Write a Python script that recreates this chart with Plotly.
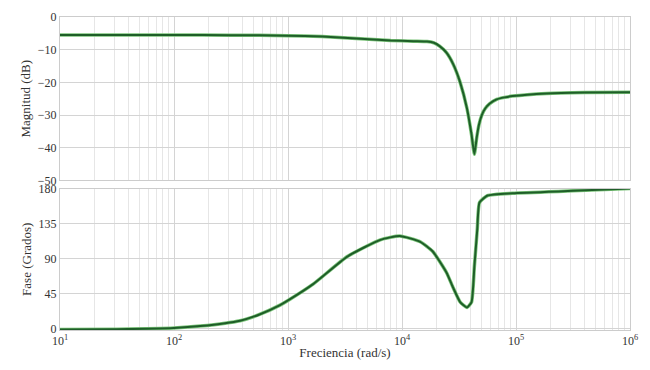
import numpy as np
import plotly.graph_objects as go
from plotly.subplots import make_subplots

# Magnitude data (log10 of frequency, dB)
mag_logw = [1.0, 2.0, 2.5, 3.0, 3.3, 3.6, 3.9, 4.1, 4.22, 4.28, 4.33, 4.39, 4.45, 4.51, 4.57, 4.61, 4.635,
            4.655, 4.675, 4.70, 4.73, 4.77, 4.83, 4.9, 4.97, 5.27, 5.6, 6.0]
mag_db = [-5.5, -5.5, -5.55, -5.7, -6.0, -6.6, -7.2, -7.4, -7.5, -7.9, -8.9, -10.9, -14.5, -20, -28, -36, -42,
          -37, -33, -30, -28, -26.5, -25.2, -24.6, -24.2, -23.4, -23.1, -23]

# Phase data (log10 of frequency, degrees)
ph_logw = [1.0, 1.5, 2.0, 2.23, 2.58, 2.75, 2.93, 3.0, 3.22, 3.52, 3.81, 3.98, 4.16, 4.27, 4.39, 4.45,
           4.51, 4.57, 4.61, 4.635, 4.66, 4.68, 4.75, 4.97, 5.5, 6.0]
ph_deg = [-1.5, -1, 0.5, 3, 10, 18, 30, 36, 57, 92.5, 114, 119, 111.5, 99, 72, 52,
          34, 27, 34, 80, 127, 162, 171, 174, 177, 180]

x_tickvals = [1e1, 1e2, 1e3, 1e4, 1e5, 1e6]
x_ticktext = ["10<sup>1</sup>", "10<sup>2</sup>", "10<sup>3</sup>", "10<sup>4</sup>", "10<sup>5</sup>", "10<sup>6</sup>"]
mag_ticks = [0, -10, -20, -30, -40, -50]
ph_ticks = [0, 45, 90, 135, 180]

mag_w = [10 ** v for v in mag_logw]
ph_w = [10 ** v for v in ph_logw]

fig = make_subplots(rows=2, cols=1, shared_xaxes=False, vertical_spacing=0.02)

for xs, ys, r in [(mag_w, mag_db, 1), (ph_w, ph_deg, 2)]:
    fig.add_trace(go.Scatter(x=xs, y=ys, mode="lines", line=dict(color="#7cc47a", width=3.5, shape="spline", smoothing=0.5),
                             hoverinfo="skip", showlegend=False), row=r, col=1)
    fig.add_trace(go.Scatter(x=xs, y=ys, mode="lines", line=dict(color="#1e5e28", width=2, shape="spline", smoothing=0.5),
                             showlegend=False), row=r, col=1)

font = dict(family="Liberation Serif, Times New Roman, serif", size=13, color="#333")
tfont = dict(family="Liberation Serif, Times New Roman, serif", size=12, color="#333")
grid = "#d4d4d4"
minor_grid = "#e6e6e6"

common_x = dict(type="log", range=[1, 6], tickvals=x_tickvals, ticktext=x_ticktext,
                showgrid=True, gridcolor=grid, gridwidth=1,
                minor=dict(showgrid=True, gridcolor=minor_grid, dtick="D1", ticks=""),
                showline=True, linecolor="#cccccc", mirror=True, ticks="", tickfont=tfont, zeroline=False,
                automargin=False)

fig.update_xaxes(**common_x, showticklabels=False, row=1, col=1)
fig.update_xaxes(**common_x, showticklabels=True, title=dict(text="Freciencia (rad/s)", font=font, standoff=0), row=2, col=1)

fig.update_yaxes(range=[-50, 0], tickvals=mag_ticks, showgrid=True, gridcolor=grid, zeroline=False,
                 showline=True, linecolor="#cccccc", mirror=True, ticks="", tickfont=tfont, automargin=False,
                 title=dict(text="Magnitud (dB)", font=font, standoff=4), row=1, col=1)
fig.update_yaxes(range=[-2, 180], tickvals=ph_ticks, showgrid=True, gridcolor=grid, zeroline=False,
                 showline=True, linecolor="#cccccc", mirror=True, ticks="", tickfont=tfont, automargin=False,
                 title=dict(text="Fase (Grados)", font=font, standoff=4), row=2, col=1)

fig.update_layout(width=650, height=370, margin=dict(l=60, r=20, t=17, b=40),
                  plot_bgcolor="white", paper_bgcolor="white", font=font)
fig.layout.yaxis.domain = [0.478, 1.0]
fig.layout.yaxis2.domain = [0.0, 0.452]

fig.write_html("out.html", config={"displayModeBar": False},
               post_script="document.body.style.margin='0';")
